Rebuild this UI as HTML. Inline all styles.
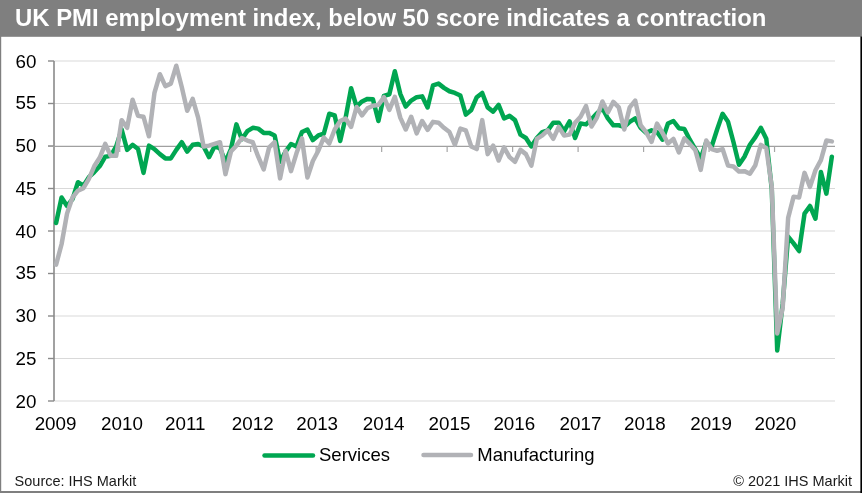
<!DOCTYPE html>
<html><head><meta charset="utf-8"><style>
html,body{margin:0;padding:0;background:#fff;}
body{width:862px;height:493px;overflow:hidden;position:relative;}
svg{position:absolute;left:0;top:0;filter:blur(0.4px);}
text{font-family:"Liberation Sans",sans-serif;}
</style></head><body>
<svg width="862" height="493" viewBox="0 0 862 493">
<rect x="0" y="0" width="862" height="493" fill="#ffffff"/>
<rect x="0" y="0" width="862" height="36.8" fill="#7f7f7f"/>
<rect x="0" y="36" width="1.2" height="457" fill="#7f7f7f"/>
<rect x="0" y="491" width="862" height="2" fill="#7f7f7f"/>
<rect x="860.4" y="36.5" width="1.6" height="456.5" fill="#000"/>
<text x="15.0" y="25.8" fill="#fff" font-weight="bold" font-size="23.9">UK PMI employment index, below 50 score indicates a contraction</text>
<line x1="54" y1="61.0" x2="835" y2="61.0" stroke="#d9d9d9" stroke-width="1"/>
<line x1="54" y1="103.5" x2="835" y2="103.5" stroke="#d9d9d9" stroke-width="1"/>
<line x1="54" y1="188.5" x2="835" y2="188.5" stroke="#d9d9d9" stroke-width="1"/>
<line x1="54" y1="231.0" x2="835" y2="231.0" stroke="#d9d9d9" stroke-width="1"/>
<line x1="54" y1="273.5" x2="835" y2="273.5" stroke="#d9d9d9" stroke-width="1"/>
<line x1="54" y1="316.0" x2="835" y2="316.0" stroke="#d9d9d9" stroke-width="1"/>
<line x1="54" y1="358.5" x2="835" y2="358.5" stroke="#d9d9d9" stroke-width="1"/>
<line x1="54" y1="401.0" x2="835" y2="401.0" stroke="#d9d9d9" stroke-width="1"/>

<line x1="54" y1="61" x2="54" y2="401" stroke="#8a8a8a" stroke-width="1.6"/>
<line x1="48" y1="61.0" x2="54" y2="61.0" stroke="#8a8a8a" stroke-width="1.4"/>
<line x1="48" y1="103.5" x2="54" y2="103.5" stroke="#8a8a8a" stroke-width="1.4"/>
<line x1="48" y1="146.0" x2="54" y2="146.0" stroke="#8a8a8a" stroke-width="1.4"/>
<line x1="48" y1="188.5" x2="54" y2="188.5" stroke="#8a8a8a" stroke-width="1.4"/>
<line x1="48" y1="231.0" x2="54" y2="231.0" stroke="#8a8a8a" stroke-width="1.4"/>
<line x1="48" y1="273.5" x2="54" y2="273.5" stroke="#8a8a8a" stroke-width="1.4"/>
<line x1="48" y1="316.0" x2="54" y2="316.0" stroke="#8a8a8a" stroke-width="1.4"/>
<line x1="48" y1="358.5" x2="54" y2="358.5" stroke="#8a8a8a" stroke-width="1.4"/>
<line x1="48" y1="401.0" x2="54" y2="401.0" stroke="#8a8a8a" stroke-width="1.4"/>

<line x1="48" y1="146.3" x2="835" y2="146.3" stroke="#a0a0a0" stroke-width="1.3"/>
<line x1="119.74" y1="146.5" x2="119.74" y2="152" stroke="#a6a6a6" stroke-width="1.2"/>
<line x1="185.22" y1="146.5" x2="185.22" y2="152" stroke="#a6a6a6" stroke-width="1.2"/>
<line x1="250.70" y1="146.5" x2="250.70" y2="152" stroke="#a6a6a6" stroke-width="1.2"/>
<line x1="316.18" y1="146.5" x2="316.18" y2="152" stroke="#a6a6a6" stroke-width="1.2"/>
<line x1="381.66" y1="146.5" x2="381.66" y2="152" stroke="#a6a6a6" stroke-width="1.2"/>
<line x1="447.14" y1="146.5" x2="447.14" y2="152" stroke="#a6a6a6" stroke-width="1.2"/>
<line x1="512.62" y1="146.5" x2="512.62" y2="152" stroke="#a6a6a6" stroke-width="1.2"/>
<line x1="578.10" y1="146.5" x2="578.10" y2="152" stroke="#a6a6a6" stroke-width="1.2"/>
<line x1="643.58" y1="146.5" x2="643.58" y2="152" stroke="#a6a6a6" stroke-width="1.2"/>
<line x1="709.06" y1="146.5" x2="709.06" y2="152" stroke="#a6a6a6" stroke-width="1.2"/>
<line x1="774.54" y1="146.5" x2="774.54" y2="152" stroke="#a6a6a6" stroke-width="1.2"/>

<g font-size="18.8" fill="#000">
<text x="36.5" y="67.60" text-anchor="end">60</text>
<text x="36.5" y="109.05" text-anchor="end">55</text>
<text x="36.5" y="152.05" text-anchor="end">50</text>
<text x="36.5" y="195.05" text-anchor="end">45</text>
<text x="36.5" y="237.80" text-anchor="end">40</text>
<text x="36.5" y="279.45" text-anchor="end">35</text>
<text x="36.5" y="322.35" text-anchor="end">30</text>
<text x="36.5" y="365.35" text-anchor="end">25</text>
<text x="36.5" y="408.30" text-anchor="end">20</text>

<text x="55.56" y="430" text-anchor="middle">2009</text>
<text x="121.94" y="430" text-anchor="middle">2010</text>
<text x="185.22" y="430" text-anchor="middle">2011</text>
<text x="252.70" y="430" text-anchor="middle">2012</text>
<text x="317.18" y="430" text-anchor="middle">2013</text>
<text x="383.66" y="430" text-anchor="middle">2014</text>
<text x="449.49" y="430" text-anchor="middle">2015</text>
<text x="514.32" y="430" text-anchor="middle">2016</text>
<text x="580.50" y="430" text-anchor="middle">2017</text>
<text x="644.93" y="430" text-anchor="middle">2018</text>
<text x="711.11" y="430" text-anchor="middle">2019</text>
<text x="775.39" y="430" text-anchor="middle">2020</text>

</g>
<polyline points="56.10,223.00 61.56,197.50 67.03,206.00 72.49,199.20 77.95,182.20 83.42,185.60 88.88,177.10 94.34,172.00 99.80,166.05 105.27,156.70 110.73,155.85 116.19,146.50 121.66,129.50 127.12,149.90 132.58,144.80 138.05,149.05 143.51,172.85 148.97,145.65 154.43,149.05 159.90,154.15 165.36,158.40 170.82,158.40 176.29,149.90 181.75,142.25 187.21,151.60 192.67,144.80 198.14,143.95 203.60,146.50 209.06,157.12 214.53,146.50 219.99,148.20 225.45,161.80 230.92,149.05 236.38,124.40 241.84,139.27 247.31,131.20 252.77,127.80 258.23,128.65 263.69,132.90 269.16,132.90 274.62,135.45 280.08,161.80 285.55,151.60 291.01,143.95 296.47,146.50 301.94,132.05 307.40,129.50 312.86,140.12 318.32,135.45 323.79,133.75 329.25,113.77 334.71,115.48 340.18,140.98 345.64,117.60 351.10,88.27 356.57,106.55 362.03,101.45 367.49,98.90 372.95,99.33 378.42,121.00 383.88,95.92 389.34,94.23 394.81,71.27 400.27,93.80 405.73,106.55 411.20,100.60 416.66,97.20 422.12,96.35 427.58,107.40 433.05,85.30 438.51,83.60 443.97,87.85 449.44,91.25 454.90,92.95 460.36,95.50 465.83,114.62 471.29,109.95 476.75,97.20 482.21,92.95 487.68,107.40 493.14,111.65 498.60,104.85 504.07,118.45 509.53,115.90 514.99,120.15 520.46,134.60 525.92,138.00 531.38,146.50 536.84,138.00 542.31,132.05 547.77,130.35 553.23,122.70 558.70,122.70 564.16,131.20 569.62,121.42 575.09,138.00 580.55,123.55 586.01,124.40 591.47,119.30 596.94,113.35 602.40,108.25 607.86,118.45 613.33,125.25 618.79,125.25 624.25,126.95 629.72,121.85 635.18,118.45 640.64,127.80 646.10,132.90 651.57,130.35 657.03,132.05 662.49,139.70 667.96,123.55 673.42,121.00 678.88,128.23 684.35,129.08 689.81,139.70 695.27,149.05 700.73,158.40 706.20,142.25 711.66,146.50 717.12,129.50 722.59,113.77 728.05,121.85 733.51,142.25 738.98,164.77 744.44,156.70 749.90,144.80 755.36,137.15 760.83,127.80 766.29,138.85 771.75,189.00 777.22,350.50 782.68,303.75 788.14,236.60 793.61,243.40 799.07,251.05 804.53,213.65 809.99,206.00 815.46,218.75 820.92,172.00 826.38,193.67 831.85,156.70" fill="none" stroke="#00a651" stroke-width="4.5" stroke-linejoin="round" stroke-linecap="round"/>
<polyline points="56.10,264.65 61.56,244.25 67.03,213.65 72.49,197.50 77.95,190.70 83.42,188.15 88.88,178.80 94.34,166.05 99.80,157.55 105.27,143.95 110.73,155.85 116.19,155.85 121.66,120.15 127.12,127.80 132.58,99.75 138.05,115.90 143.51,116.75 148.97,136.30 154.43,92.95 159.90,74.25 165.36,86.15 170.82,83.60 176.29,65.75 181.75,87.00 187.21,110.80 192.67,98.90 198.14,117.60 203.60,146.50 209.06,145.65 214.53,143.95 219.99,142.25 225.45,174.12 230.92,151.60 236.38,145.65 241.84,138.00 247.31,140.55 252.77,142.25 258.23,156.70 263.69,169.45 269.16,147.35 274.62,142.25 280.08,178.38 285.55,150.75 291.01,171.15 296.47,153.30 301.94,138.42 307.40,177.52 312.86,160.95 318.32,150.75 323.79,137.58 329.25,143.52 334.71,129.50 340.18,121.00 345.64,118.45 351.10,126.95 356.57,106.98 362.03,115.48 367.49,108.25 372.95,105.70 378.42,104.85 383.88,97.20 389.34,109.95 394.81,96.77 400.27,117.60 405.73,129.50 411.20,116.75 416.66,133.33 422.12,121.00 427.58,129.92 433.05,121.85 438.51,122.70 443.97,127.80 449.44,132.05 454.90,144.80 460.36,128.65 465.83,130.35 471.29,146.50 476.75,149.05 482.21,120.15 487.68,154.15 493.14,145.65 498.60,160.52 504.07,147.35 509.53,157.12 514.99,161.80 520.46,149.90 525.92,154.15 531.38,165.62 536.84,138.85 542.31,135.45 547.77,130.35 553.23,138.85 558.70,126.95 564.16,135.45 569.62,134.60 575.09,122.70 580.55,116.75 586.01,106.12 591.47,126.52 596.94,117.60 602.40,101.45 607.86,112.50 613.33,101.88 618.79,107.40 624.25,129.50 629.72,107.40 635.18,100.60 640.64,125.25 646.10,132.05 651.57,141.83 657.03,123.55 662.49,132.90 667.96,143.52 673.42,138.85 678.88,152.45 684.35,138.42 689.81,143.95 695.27,149.90 700.73,169.88 706.20,140.55 711.66,149.05 717.12,150.75 722.59,149.05 728.05,165.62 733.51,166.48 738.98,171.58 744.44,171.15 749.90,173.70 755.36,165.20 760.83,144.80 766.29,148.20 771.75,186.45 777.22,333.50 782.68,308.00 788.14,217.90 793.61,196.65 799.07,197.50 804.53,172.85 809.99,186.88 815.46,170.30 820.92,160.10 826.38,140.55 831.85,141.40" fill="none" stroke="#b1b2b6" stroke-width="4.5" stroke-linejoin="round" stroke-linecap="round"/>
<line x1="264.5" y1="455.4" x2="313" y2="455.4" stroke="#00a651" stroke-width="4.5" stroke-linecap="round"/>
<line x1="423.5" y1="455" x2="471" y2="455" stroke="#b1b2b6" stroke-width="4.5" stroke-linecap="round"/>
<g font-size="18.5" fill="#000">
<text x="319" y="461.2">Services</text>
<text x="477.3" y="461.2">Manufacturing</text>
</g>
<g font-size="14.5" fill="#1a1a1a">
<text x="14.6" y="485.5">Source: IHS Markit</text>
<text x="852" y="485.5" text-anchor="end">© 2021 IHS Markit</text>
</g>
</svg>
</body></html>
